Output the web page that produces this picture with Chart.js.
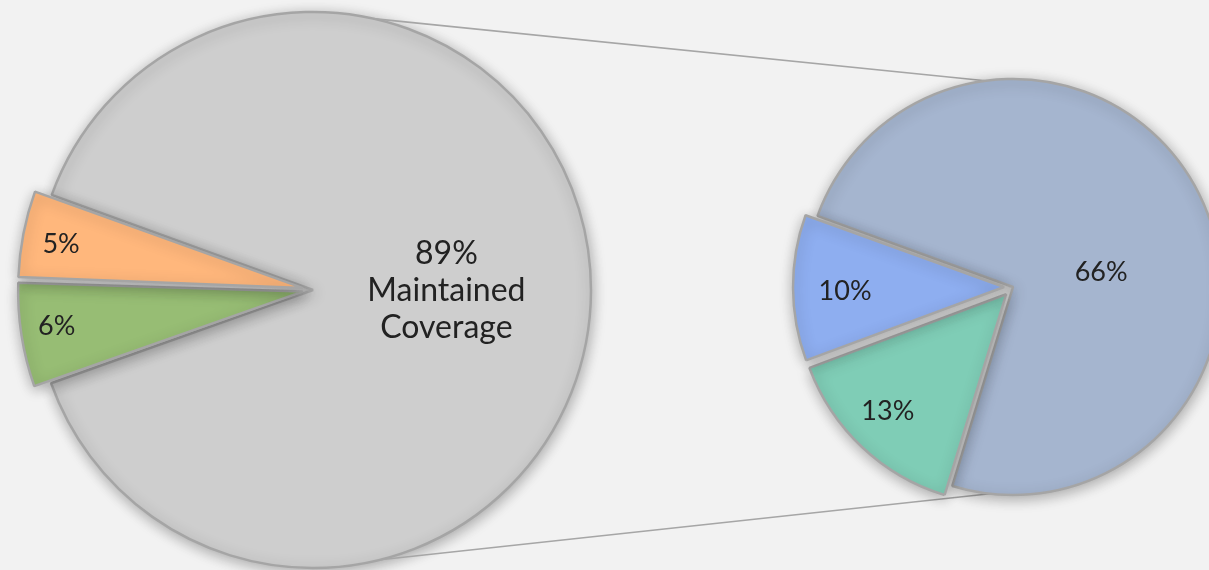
<!DOCTYPE html>
<html lang="en">
<head>
    <meta charset="UTF-8">
    <title>Coverage</title>
    <style>
        html, body{
            margin:0;
            padding:0;
            width:1209px;
            height:570px;
            overflow:hidden;
            background:#f2f2f2;
        }
        .layer{
            position:absolute;
            left:0;
            top:0;
            width:1209px;
            height:570px;
        }
    </style>
</head>
<body>
    <div class="layer"><canvas id="mainPie"></canvas></div>
    <div class="layer"><canvas id="detailPie"></canvas></div>

    <script src="https://cdn.jsdelivr.net/npm/chart.js@4.4.1/dist/chart.umd.min.js"></script>
    <script>
        /* data */
        const mainLabels = ['Maintained Coverage', 'Segment B', 'Segment A'];
        const mainValues = [89, 6, 5];
        const mainShowName = [true, false, false];

        const detailLabels = ['Part 1', 'Part 2', 'Part 3'];
        const detailValues = [66, 13, 10];

        /* styles */
        const mainColors = [['#cecece', '#c2c2c2'], ['#97bd74', '#7ea35c'], ['#ffb77c', '#f29d5f']];
        const detailColors = [['#a5b5cf', '#97a8c3'], ['#7fcdb6', '#68bba2'], ['#8eaef0', '#7697dc']];
        const mainExplode = [0, 17, 17];       // px
        const detailExplode = [0, 12, 12];
        // label place: [fraction along arc, fraction of radius]
        const mainLabelPos = [[0.5, 0.48], [0.54, 0.87], [0.46, 0.86]];
        const detailLabelPos = [[0.563, 0.43], [0.54, 0.79], [0.47, 0.75]];

        const TAU = Math.PI * 2;
        const FONT = 'Lato, "Noto Sans", sans-serif';

        // chart.js moves an arc by offset/4*(2-sin(circ)); turn wanted px into offset
        function explodeOffset(values, px) {
            const sum = values.reduce((a, b) => a + b, 0);
            return (c) => {
                const circ = TAU * values[c.dataIndex] / sum;
                return px[c.dataIndex] * 4 / (2 - Math.sin(Math.min(Math.PI, circ)));
            };
        }

        function shiftOf(arc) {
            const off = (arc.options.offset || 0) / 4;
            const circ = arc.endAngle - arc.startAngle;
            const d = off * (2 - Math.sin(Math.min(Math.PI, circ)));
            const mid = (arc.startAngle + arc.endAngle) / 2;
            return [Math.cos(mid) * d, Math.sin(mid) * d];
        }

        function fillOf(colors) {
            return (c) => {
                const arc = c.element;
                const pair = colors[c.dataIndex];
                if (!arc || !arc.outerRadius) return pair[0];
                const g = c.chart.ctx.createRadialGradient(arc.x, arc.y, 0, arc.x, arc.y, arc.outerRadius);
                g.addColorStop(0, pair[0]);
                g.addColorStop(1, pair[1]);
                return g;
            };
        }

        const shadowPlugin = {
            id: 'shadow',
            beforeDatasetsDraw(chart) {
                const ctx = chart.ctx;
                ctx.save();
                ctx.shadowColor = 'rgba(0,0,0,0.3)';
                ctx.shadowBlur = 14;
                ctx.shadowOffsetX = 1;
                ctx.shadowOffsetY = 3;
            },
            afterDatasetsDraw(chart) {
                chart.ctx.restore();
            }
        };

        function labelPlugin(texts, pos, size, bigSize) {
            return {
                id: 'sliceLabels',
                afterDraw(chart) {
                    const ctx = chart.ctx;
                    const arcs = chart.getDatasetMeta(0).data;
                    ctx.save();
                    ctx.fillStyle = '#222222';
                    ctx.textAlign = 'center';
                    ctx.textBaseline = 'middle';
                    arcs.forEach((arc, i) => {
                        const [sx, sy] = shiftOf(arc);
                        const a = arc.startAngle + (arc.endAngle - arc.startAngle) * pos[i][0];
                        const r = arc.outerRadius * pos[i][1];
                        const x = arc.x + sx + Math.cos(a) * r;
                        const y = arc.y + sy + Math.sin(a) * r;
                        const lines = texts[i].split('\n');
                        const fs = lines.length > 1 ? bigSize : size;
                        const lh = fs * 1.16;
                        ctx.font = fs + 'px ' + FONT;
                        lines.forEach((t, k) => {
                            ctx.fillText(t, x, y + (k - (lines.length - 1) / 2) * lh);
                        });
                    });
                    ctx.restore();
                }
            };
        }

        const mainTexts = mainValues.map((v, i) => v + '%' + (mainShowName[i] ? '\n' + mainLabels[i].replace(' ', '\n') : ''));
        const detailTexts = detailValues.map(v => v + '%');

        const mainChart = new Chart(document.getElementById('mainPie'), {
            type: 'pie',
            data: {
                labels: mainLabels,
                datasets: [{
                    data: mainValues,
                    backgroundColor: fillOf(mainColors),
                    borderColor: '#a5a5a5',
                    borderWidth: 2.5,
                    offset: explodeOffset(mainValues, mainExplode),
                    radius: 278,
                    clip: false
                }]
            },
            options: {
                responsive: true,
                maintainAspectRatio: false,
                animation: false,
                events: [],
                rotation: 290,
                layout: { padding: { left: 0, right: 583, top: 10, bottom: 0 } },
                plugins: { legend: { display: false }, tooltip: { enabled: false } }
            },
            plugins: [shadowPlugin, labelPlugin(mainTexts, mainLabelPos, 27, 32)]
        });

        // connector lines from the big pie to the small one
        const connectAngles = [[282.5, 262.4], [76, 96.4]];
        const connectorPlugin = {
            id: 'connectors',
            beforeDatasetsDraw(chart) {
                const a = mainChart.getDatasetMeta(0).data[0];
                const b = chart.getDatasetMeta(0).data[0];
                const ctx = chart.ctx;
                ctx.save();
                ctx.strokeStyle = '#a6a6a6';
                ctx.lineWidth = 1.6;
                connectAngles.forEach(([p, q]) => {
                    const ap = p * Math.PI / 180, bq = q * Math.PI / 180;
                    ctx.beginPath();
                    ctx.moveTo(a.x + Math.cos(ap) * a.outerRadius, a.y + Math.sin(ap) * a.outerRadius);
                    ctx.lineTo(b.x + Math.cos(bq) * b.outerRadius, b.y + Math.sin(bq) * b.outerRadius);
                    ctx.stroke();
                });
                ctx.restore();
            }
        };

        new Chart(document.getElementById('detailPie'), {
            type: 'pie',
            data: {
                labels: detailLabels,
                datasets: [{
                    data: detailValues,
                    backgroundColor: fillOf(detailColors),
                    borderColor: '#a5a5a5',
                    borderWidth: 2.5,
                    offset: explodeOffset(detailValues, detailExplode),
                    radius: 208,
                    clip: false
                }]
            },
            options: {
                responsive: true,
                maintainAspectRatio: false,
                animation: false,
                events: [],
                rotation: 290,
                layout: { padding: { left: 817, right: 0, top: 4, bottom: 0 } },
                plugins: { legend: { display: false }, tooltip: { enabled: false } }
            },
            plugins: [connectorPlugin, shadowPlugin, labelPlugin(detailTexts, detailLabelPos, 27, 32)]
        });
    </script>
</body>
</html>
